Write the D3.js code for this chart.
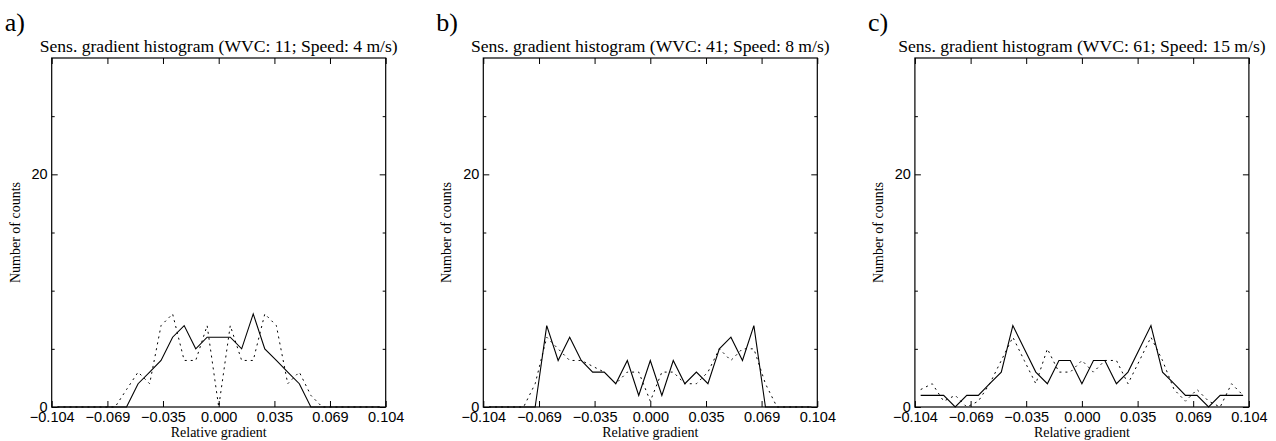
<!DOCTYPE html>
<html>
<head>
<meta charset="utf-8">
<script src="https://cdn.jsdelivr.net/npm/d3@7"></script>
<style>
  body { margin: 0; background: #fff; }
  svg { display: block; font-family: "Liberation Serif", "DejaVu Serif", serif; }
  .axis path { display: none; }
  .axis line { stroke: #000; stroke-width: 1; }
  .axis text { font-size: 14.5px; fill: #000; }
</style>
</head>
<body>
<svg id="chart" width="1276" height="441"></svg>
<script>
// Bin centres of the histograms (relative gradient)
var binCenters = [-0.1004, -0.0932, -0.0861, -0.0789, -0.0717, -0.0645, -0.0574, -0.0502, -0.0430,
    -0.0359, -0.0287, -0.0215, -0.0143, -0.0072, 0.0, 0.0072, 0.0143, 0.0215, 0.0287, 0.0359,
    0.0430, 0.0502, 0.0574, 0.0645, 0.0717, 0.0789, 0.0861, 0.0932, 0.1004];

// Panel a) WVC 11, 4 m/s
var solidA  = [0, 0, 0, 0, 0, 0, 0, 2, 3, 4, 6, 7, 5, 6, 6, 6, 5, 8, 5, 4, 3, 2, 0, 0, 0, 0, 0, 0, 0];
var dottedA = [0, 0, 0, 0, 0, 0, 1.5, 3, 2, 7, 8, 4, 4, 7, 0, 7, 4, 4, 8, 7, 2, 3, 1, 0, 0, 0, 0, 0, 0];
// Panel b) WVC 41, 8 m/s
var solidB  = [0, 0, 0, 0, 0, 7, 4, 6, 4, 3, 3, 2, 4, 1, 4, 1, 4, 2, 3, 2, 5, 6, 4, 7, 0, 0, 0, 0, 0];
var dottedB = [0, 0, 0, 0, 2, 6, 5, 4, 4, 3.5, 3, 2, 3, 3, 0.5, 3, 3, 2, 2, 3, 5, 4, 5, 5, 2, 0, 0, 0, 0];
// Panel c) WVC 61, 15 m/s
var solidC  = [1, 1, 1, 0, 1, 1, 2, 3, 7, 5, 3, 2, 4, 4, 2, 4, 4, 2, 3, 5, 7, 3, 2, 1, 1, 0, 1, 1, 1];
var dottedC = [1.5, 2, 0.5, 1, 0, 0.5, 2, 4, 6, 4, 2, 5, 3, 3, 4, 3, 4, 4, 2, 4, 6, 4, 1.5, 0.5, 1.5, 0.5, 0, 2, 1];

var panels = [
    { letter: "a)", title: "Sens. gradient histogram (WVC: 11; Speed: 4 m/s)", solid: solidA, dotted: dottedA },
    { letter: "b)", title: "Sens. gradient histogram (WVC: 41; Speed: 8 m/s)", solid: solidB, dotted: dottedB },
    { letter: "c)", title: "Sens. gradient histogram (WVC: 61; Speed: 15 m/s)", solid: solidC, dotted: dottedC }
];

var xTicks = [-0.104, -0.0693, -0.0347, 0, 0.0347, 0.0693, 0.104];
var xTickLabels = ["\u22120.104", "\u22120.069", "\u22120.035", "0.000", "0.035", "0.069", "0.104"];
var yMajor = [0, 20];
var yMinor = [5, 10, 15, 25];

var svg = d3.select("#chart");

var plotW = 334, plotTop = 58, plotBottom = 407, panelStep = 431.6, firstLeft = 51.7;

var x = d3.scaleLinear().domain([-0.104, 0.104]).range([0, plotW]);
var y = d3.scaleLinear().domain([0, 30]).range([plotBottom - plotTop, 0]);
var h = plotBottom - plotTop;

var line = d3.line()
    .x(function(d, i) { return x(binCenters[i]); })
    .y(function(d) { return y(d); });

panels.forEach(function(p, i) {
    var left = firstLeft + i * panelStep;
    var g = svg.append("g").attr("transform", "translate(" + left + "," + plotTop + ")");

    // panel letter
    svg.append("text")
        .attr("x", left - 47)
        .attr("y", 31)
        .style("font-size", "26px")
        .text(p.letter);

    // title
    g.append("text")
        .attr("x", plotW / 2)
        .attr("y", -6)
        .attr("text-anchor", "middle")
        .style("font-size", "17.6px")
        .text(p.title);

    // data lines
    g.append("path")
        .attr("d", line(p.dotted))
        .attr("fill", "none")
        .attr("stroke", "#000")
        .attr("stroke-width", 1)
        .attr("stroke-dasharray", "2,4");

    g.append("path")
        .attr("d", line(p.solid))
        .attr("fill", "none")
        .attr("stroke", "#000")
        .attr("stroke-width", 1.1);

    // bottom axis
    g.append("g")
        .attr("class", "axis")
        .attr("transform", "translate(0," + h + ")")
        .call(d3.axisBottom(x).tickValues(xTicks).tickSizeInner(-6).tickSizeOuter(0).tickPadding(5)
            .tickFormat(function(d, j) { return xTickLabels[j]; }));

    // top axis (ticks only)
    g.append("g")
        .attr("class", "axis")
        .call(d3.axisTop(x).tickValues(xTicks).tickSizeInner(-6).tickSizeOuter(0).tickFormat(""));

    // left axis, major + minor
    g.append("g")
        .attr("class", "axis")
        .call(d3.axisLeft(y).tickValues(yMajor).tickSizeInner(-6).tickSizeOuter(0).tickPadding(4)
            .tickFormat(d3.format("d")));
    g.append("g")
        .attr("class", "axis")
        .call(d3.axisLeft(y).tickValues(yMinor).tickSizeInner(-3).tickSizeOuter(0).tickFormat(""));

    // right axis, major + minor
    g.append("g")
        .attr("class", "axis")
        .attr("transform", "translate(" + plotW + ",0)")
        .call(d3.axisRight(y).tickValues(yMajor).tickSizeInner(-6).tickSizeOuter(0).tickFormat(""));
    g.append("g")
        .attr("class", "axis")
        .attr("transform", "translate(" + plotW + ",0)")
        .call(d3.axisRight(y).tickValues(yMinor).tickSizeInner(-3).tickSizeOuter(0).tickFormat(""));

    // frame
    g.append("rect")
        .attr("width", plotW)
        .attr("height", h)
        .attr("fill", "none")
        .attr("stroke", "#000")
        .attr("stroke-width", 1.2);

    // axis titles
    g.append("text")
        .attr("x", plotW / 2)
        .attr("y", h + 30)
        .attr("text-anchor", "middle")
        .style("font-size", "14px")
        .text("Relative gradient");

    g.append("text")
        .attr("transform", "translate(-32," + (h / 2) + ") rotate(-90)")
        .attr("text-anchor", "middle")
        .style("font-size", "14px")
        .text("Number of counts");
});
</script>
</body>
</html>
